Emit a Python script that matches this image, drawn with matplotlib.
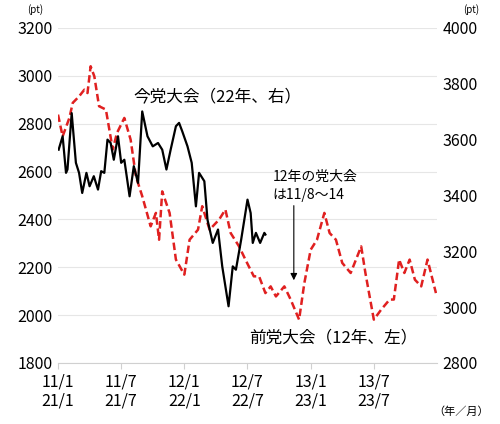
import matplotlib
matplotlib.use("Agg")
import matplotlib.pyplot as plt

plt.rcParams["font.family"] = ["Noto Sans CJK JP", "DejaVu Sans"]

# x = months since 11/1 (or 21/1)
PREV_X = [0, 0.44, 1.08, 1.4, 2.0, 2.5, 2.8, 3.1, 3.45, 3.9, 4.55, 5.2, 5.6, 6.3, 6.9, 7.4, 8.0,
          8.8, 9.3, 9.6, 9.9, 10.6, 11.2, 12.0, 12.5, 13.3, 13.7, 14.4, 15.3, 15.9, 16.4, 17.2,
          17.8, 18.6, 19.1, 19.7, 20.2, 20.7, 21.5, 22.1, 22.9, 23.4, 24.0, 24.6, 25.3, 25.8,
          26.4, 27.0, 27.8, 28.8, 29.2, 30.0, 30.7, 31.5, 31.9, 32.4, 32.9, 33.4, 33.9, 34.5,
          35.1, 35.9]
PREV_Y = [2838, 2747, 2824, 2887, 2914, 2942, 2928, 3040, 2998, 2873, 2859, 2692, 2761, 2824,
          2733, 2580, 2497, 2371, 2427, 2315, 2517, 2427, 2232, 2169, 2315, 2357, 2455, 2357,
          2399, 2441, 2343, 2287, 2232, 2162, 2162, 2092, 2120, 2078, 2120, 2065, 1981, 2134,
          2273, 2315, 2427, 2343, 2315, 2218, 2176, 2287, 2176, 1981, 2023, 2065, 2065, 2232,
          2176, 2232, 2148, 2120, 2232, 2092]
CUR_X = [0.06, 0.44, 0.76, 0.9, 1.3, 1.7, 2.0, 2.3, 2.7, 3.0, 3.4, 3.8, 4.1, 4.4, 4.7, 5.0,
         5.3, 5.7, 6.0, 6.3, 6.8, 7.2, 7.6, 8.0, 8.5, 9.0, 9.5, 9.9, 10.3, 10.7, 11.2, 11.5,
         11.8, 12.3, 12.7, 13.1, 13.4, 13.9, 14.2, 14.7, 15.2, 15.6, 16.2, 16.6, 16.9, 17.4,
         18.0, 18.3, 18.5, 18.8, 19.2, 19.6, 19.7]
CUR_Y = [3564, 3612, 3481, 3493, 3695, 3517, 3481, 3409, 3481, 3433, 3469, 3421, 3487, 3481,
         3600, 3588, 3528, 3612, 3517, 3528, 3397, 3505, 3445, 3701, 3612, 3576, 3588, 3564,
         3493, 3564, 3648, 3660, 3630, 3576, 3517, 3361, 3481, 3451, 3313, 3230, 3278, 3146,
         3003, 3146, 3134, 3242, 3385, 3337, 3230, 3266, 3230, 3266, 3260]
TICK_POS = [0, 6, 12, 18, 24, 30]
TICK_LABELS = ["11/1\n21/1", "11/7\n21/7", "12/1\n22/1", "12/7\n22/7", "13/1\n23/1", "13/7\n23/7"]

fig = plt.figure(figsize=(5, 4.24), dpi=100)
ax = fig.add_axes([0.116, 0.144, 0.758, 0.79])
ax2 = ax.twinx()

ax.plot(PREV_X, PREV_Y, color="#e02020", ls=(0, (3, 1.5)), lw=1.8)
ax2.plot(CUR_X, CUR_Y, color="black", lw=1.6)

ax.set_xlim(0, 36)
ax.set_ylim(1800, 3200)
ax2.set_ylim(2800, 4000)
ax.set_yticks(range(1800, 3201, 200))
ax2.set_yticks(range(2800, 4001, 200))
ax.set_xticks(TICK_POS, TICK_LABELS)
ax.grid(axis="y", color="#e6e6e6", lw=0.8)
ax.set_axisbelow(True)

for a in (ax, ax2):
    for s in a.spines.values():
        s.set_visible(False)
    a.tick_params(axis="y", length=0, labelsize=11.5, pad=4)
ax.spines["bottom"].set_visible(True)
ax.spines["bottom"].set_color("#d0d0d0")
ax.tick_params(axis="x", length=4, color="#d0d0d0", labelsize=11.5)

ax.text(-0.04, 1.04, "(pt)", transform=ax.transAxes, ha="right", va="bottom", fontsize=7)
ax.text(1.07, 1.04, "(pt)", transform=ax.transAxes, ha="left", va="bottom", fontsize=7)
ax.text(0.99, -0.145, "（年／月）", transform=ax.transAxes, ha="left", va="center", fontsize=8)

ax.text(7.2, 2914, "今党大会（22年、右）", fontsize=12, va="center")
ax.text(18.2, 1904, "前党大会（12年、左）", fontsize=12, va="center")
ax.text(20.4, 2540, "12年の党大会\nは11/8～14", fontsize=10, va="center", linespacing=1.4)
ax.annotate("", xy=(22.4, 2134), xytext=(22.4, 2469),
            arrowprops=dict(arrowstyle="-|>", color="black", lw=0.8, mutation_scale=10))

fig.savefig("out.png", dpi=100)
